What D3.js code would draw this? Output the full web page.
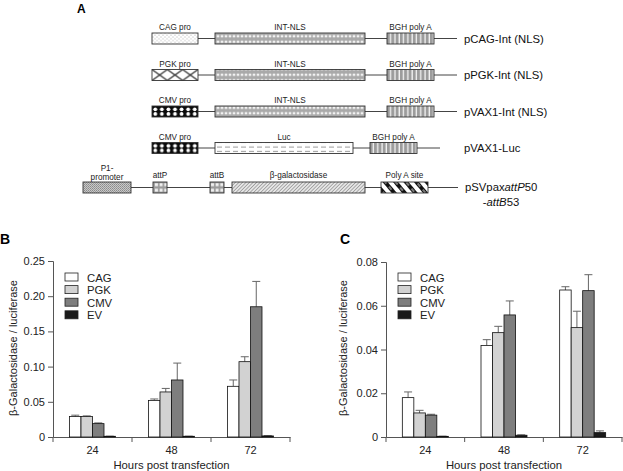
<!DOCTYPE html>
<html><head><meta charset="utf-8">
<script src="https://cdn.jsdelivr.net/npm/d3@7"></script>
<style>
body{margin:0;background:#fff;}
svg{display:block;font-family:"Liberation Sans",Arial,sans-serif;}
</style></head>
<body><svg id="c" width="623" height="471"></svg>
<script>
// ---------- Panel A data (construct maps, in map units) ----------
const constructNames = ["pCAG-Int (NLS)", "pPGK-Int (NLS)", "pVAX1-Int (NLS)", "pVAX1-Luc", "pSVpax"];
const constructEnds = [457, 457, 457, 440, 458];
const elemRow   = [0,0,0, 1,1,1, 2,2,2, 3,3,3, 4,4,4,4,4];
const elemName  = ["CAG pro","INT-NLS","BGH poly A","PGK pro","INT-NLS","BGH poly A","CMV pro","INT-NLS","BGH poly A","CMV pro","Luc","BGH poly A","P1-|promoter","attP","attB","β-galactosidase","Poly A site"];
const elemKind  = ["cag","int","bgh","pgk","int","bgh","cmv","int","bgh","cmv","luc","bgh","p1","att","att","gal","pa"];
const elemStart = [152,215,387, 152,215,387, 152,215,387, 152,215,370, 83,153,210,232,381];
const elemEnd   = [198,365,434, 198,365,434, 198,365,434, 198,353,417, 131,167,224,365,428];

// ---------- Panels B & C data ----------
const hours = ["24","48","72"];
const series = ["CAG","PGK","CMV","EV"];
const bCAG = [0.029, 0.052, 0.072], bCAGerr = [0.002, 0.002, 0.009];
const bPGK = [0.029, 0.064, 0.107], bPGKerr = [0.001, 0.005, 0.007];
const bCMV = [0.019, 0.081, 0.185], bCMVerr = [0.001, 0.024, 0.036];
const bEV  = [0.001, 0.001, 0.0015], bEVerr = [0.0002, 0.0002, 0.0004];
const cCAG = [0.018, 0.0418, 0.0672], cCAGerr = [0.0026, 0.0027, 0.0015];
const cPGK = [0.011, 0.0477, 0.050], cPGKerr = [0.0012, 0.0029, 0.0075];
const cCMV = [0.010, 0.0558, 0.0669], cCMVerr = [0.0004, 0.0064, 0.0073];
const cEV  = [0.0003, 0.0008, 0.002], cEVerr = [0.0001, 0.0002, 0.0008];
const bTicks = [0, 0.05, 0.10, 0.15, 0.20, 0.25];
const cTicks = [0, 0.02, 0.04, 0.06, 0.08];
const fills = ["#ffffff", "#d2d2d2", "#7e7e7e", "#1a1a1a"];

const svg = d3.select("#c");
const defs = svg.append("defs");

// ---------- patterns ----------
const rowY = d3.scalePoint().domain(d3.range(4)).range([38.5, 148]);
const rowCenter = i => i < 4 ? rowY(i) : 187.5;
const BH = 11;
const mx = d3.scaleLinear().domain([0, 623]).range([0, 623]);

function pat(id, w, h, extra) {
  const p = defs.append("pattern").attr("id", id).attr("patternUnits", "userSpaceOnUse")
    .attr("width", w).attr("height", h);
  if (extra) for (const k in extra) p.attr(k, extra[k]);
  return p;
}
// dots
let p = pat("cag", 4, 3.6);
p.append("rect").attr("width", 4).attr("height", 3.6).attr("fill", "#fff");
p.append("circle").attr("cx", 1).attr("cy", 0.9).attr("r", 0.5).attr("fill", "#888");
p.append("circle").attr("cx", 3).attr("cy", 2.7).attr("r", 0.5).attr("fill", "#888");
// int bricks
p = pat("int", 4, 5.5, {y: 0.5});
p.append("rect").attr("width", 4).attr("height", 5.5).attr("fill", "#a9a9a9");
p.append("rect").attr("x", 0.7).attr("y", 1.6).attr("width", 2.6).attr("height", 2.3).attr("fill", "#f2f2f2");
// bgh stripes
p = pat("bgh", 4.3, 11);
p.append("rect").attr("width", 4.3).attr("height", 11).attr("fill", "#f4f4f4");
p.append("rect").attr("width", 3).attr("height", 11).attr("fill", "#9c9c9c");
// luc dashes
p = pat("luc", 8, 4.5, {y: 0});
p.append("rect").attr("width", 8).attr("height", 4.5).attr("fill", "#fff");
p.append("line").attr("x1", 1).attr("x2", 6).attr("y1", 3).attr("y2", 3).attr("stroke", "#777").attr("stroke-width", 0.8);
// p1 fine hatch
p = pat("p1", 2, 2);
p.append("rect").attr("width", 2).attr("height", 2).attr("fill", "#c8c8c8");
p.append("rect").attr("width", 1).attr("height", 1).attr("fill", "#8a8a8a");
p.append("rect").attr("x", 1).attr("y", 1).attr("width", 1).attr("height", 1).attr("fill", "#9a9a9a");
// att
p = pat("att", 4.67, 5.5, {y: 0.5});
p.append("rect").attr("width", 4.67).attr("height", 5.5).attr("fill", "#9a9a9a");
p.append("rect").attr("x", 0.8).attr("y", 1.2).attr("width", 3).attr("height", 3).attr("fill", "#f0f0f0");
// galactosidase diagonal hatch
p = pat("gal", 2.5, 2.5, {patternTransform: "rotate(45)"});
p.append("rect").attr("width", 2.5).attr("height", 2.5).attr("fill", "#e6e6e6");
p.append("rect").attr("width", 0.8).attr("height", 2.5).attr("fill", "#9a9a9a");
// poly A thick stripes
p = pat("pa", 8, 8, {patternTransform: "rotate(-40)"});
p.append("rect").attr("width", 8).attr("height", 8).attr("fill", "#fff");
p.append("rect").attr("width", 4).attr("height", 8).attr("fill", "#111");
p.append("line").attr("x1", 2).attr("x2", 2).attr("y1", 1).attr("y2", 5).attr("stroke", "#fff").attr("stroke-width", 0.9);

// per-box patterns (PGK X, CMV dots) aligned to box
elemKind.forEach((k, i) => {
  const x0 = mx(elemStart[i]), x1 = mx(elemEnd[i]), yt = rowCenter(elemRow[i]) - BH / 2;
  if (k === "pgk") {
    const w = (x1 - x0) / 3;
    const q = pat("pgk" + i, w, BH, {x: x0, y: yt});
    q.append("rect").attr("width", w).attr("height", BH).attr("fill", "#fff");
    q.append("path").attr("d", `M0,0L${w},${BH}M0,${BH}L${w},0`).attr("stroke", "#222").attr("stroke-width", 1.1);
  }
  if (k === "cmv") {
    const w = (x1 - x0) / 7;
    const q = pat("cmv" + i, w, BH, {x: x0, y: yt});
    q.append("rect").attr("width", w).attr("height", BH).attr("fill", "#0a0a0a");
    q.append("circle").attr("cx", w / 2).attr("cy", 3.3).attr("r", 1.9).attr("fill", "#fff");
    q.append("circle").attr("cx", w / 2).attr("cy", 7.9).attr("r", 1.9).attr("fill", "#fff");
  }
});

// ---------- Panel A drawing ----------
svg.append("text").attr("x", 77).attr("y", 13).attr("font-size", 12).attr("font-weight", "bold").text("A");

constructNames.forEach((n, r) => {
  const idx = elemRow.map((v, i) => v === r ? i : -1).filter(i => i >= 0);
  const cy = rowCenter(r);
  svg.append("line").attr("x1", mx(elemStart[idx[0]])).attr("x2", mx(constructEnds[r]))
    .attr("y1", cy).attr("y2", cy).attr("stroke", "#444").attr("stroke-width", 1);
});
elemKind.forEach((k, i) => {
  const x0 = mx(elemStart[i]), x1 = mx(elemEnd[i]), cy = rowCenter(elemRow[i]);
  const fid = (k === "pgk" || k === "cmv") ? k + i : k;
  svg.append("rect").attr("x", x0).attr("y", cy - BH / 2).attr("width", x1 - x0).attr("height", BH)
    .attr("fill", `url(#${fid})`).attr("stroke", "#333").attr("stroke-width", 0.9);
  const parts = elemName[i].split("|");
  const cx = (x0 + x1) / 2;
  const t = svg.append("text").attr("x", cx).attr("text-anchor", "middle").attr("font-size", 8.2).attr("fill", "#222");
  if (parts.length === 2) {
    t.attr("y", cy - 17).text(parts[0]);
    svg.append("text").attr("x", cx).attr("y", cy - 8).attr("text-anchor", "middle").attr("font-size", 8.2).attr("fill", "#222").text(parts[1]);
  } else {
    t.attr("y", cy - (elemRow[i] === 4 ? 9.5 : 8.5)).text(parts[0]);
  }
});
constructNames.forEach((n, r) => {
  const cy = rowCenter(r);
  if (r < 4) {
    svg.append("text").attr("x", 464).attr("y", cy + 4).attr("font-size", 11.3).attr("fill", "#111").text(n);
  } else {
    const t = svg.append("text").attr("x", 465).attr("y", cy + 3).attr("font-size", 11.3).attr("fill", "#111");
    t.append("tspan").text(n);
    t.append("tspan").attr("font-style", "italic").text("attP");
    t.append("tspan").text("50");
    const t2 = svg.append("text").attr("x", 501).attr("y", cy + 18).attr("font-size", 11.3).attr("fill", "#111").attr("text-anchor", "middle");
    t2.append("tspan").text("-");
    t2.append("tspan").attr("font-style", "italic").text("attB");
    t2.append("tspan").text("53");
  }
});

// ---------- Bar charts ----------
function barChart(opt) {
  const g = svg.append("g");
  const x = d3.scaleBand().domain(hours).range([opt.x0, opt.x1]);
  const y = d3.scaleLinear().domain(opt.domain).range([437, opt.yTop]);
  const inner = d3.scaleBand().domain(series).range([-23, 23]);
  // axes
  const ya = g.append("g").attr("transform", `translate(${opt.x0},0)`)
    .call(d3.axisLeft(y).tickValues(opt.ticks).tickFormat(opt.fmt).tickSize(5).tickPadding(3));
  const xa = g.append("g").attr("transform", "translate(0,437)")
    .call(d3.axisBottom(x).tickSize(0).tickPadding(9));
  [ya, xa].forEach(a => {
    a.select(".domain").attr("stroke", "#555");
    a.selectAll(".tick line").attr("stroke", "#555");
    a.selectAll("text").attr("font-family", "Liberation Sans, Arial, sans-serif").attr("font-size", 11).attr("fill", "#222");
  });
  // band separator ticks
  g.selectAll(".sep").data([opt.x0].concat(hours.map(h => x(h) + x.bandwidth()))).enter().append("line")
    .attr("x1", d => d).attr("x2", d => d).attr("y1", 437).attr("y2", 442).attr("stroke", "#555");
  // bars
  opt.vals.forEach((vals, s) => {
    hours.forEach((h, i) => {
      const cx = x(h) + x.bandwidth() / 2;
      const bx = cx + inner(series[s]);
      const top = y(vals[i]);
      const ey = y(vals[i] + opt.errs[s][i]);
      const mid = bx + inner.bandwidth() / 2;
      g.append("line").attr("x1", mid).attr("x2", mid).attr("y1", top).attr("y2", ey).attr("stroke", "#666");
      g.append("line").attr("x1", mid - 4).attr("x2", mid + 4).attr("y1", ey).attr("y2", ey).attr("stroke", "#666");
      g.append("rect").attr("x", bx).attr("y", top).attr("width", inner.bandwidth()).attr("height", 437 - top)
        .attr("fill", fills[s]).attr("stroke", "#111").attr("stroke-width", 0.8);
    });
  });
  // legend
  series.forEach((s, i) => {
    const ly = 277 + i * 12.6;
    g.append("rect").attr("x", opt.lx).attr("y", ly - 4).attr("width", 13).attr("height", 8)
      .attr("fill", fills[i]).attr("stroke", "#222").attr("stroke-width", 0.8);
    g.append("text").attr("x", opt.lx + 22).attr("y", ly + 4.5).attr("font-size", 11.3).attr("fill", "#222").text(s);
  });
  // titles
  g.append("text").attr("transform", `translate(${opt.ylx},348) rotate(-90)`).attr("text-anchor", "middle")
    .attr("font-size", 11).attr("fill", "#222").text("β-Galactosidase / luciferase");
  g.append("text").attr("x", (opt.x0 + opt.x1) / 2).attr("y", 469).attr("text-anchor", "middle")
    .attr("font-size", 11.3).attr("fill", "#222").text("Hours post transfection");
  g.append("text").attr("x", opt.lblx).attr("y", 244).attr("font-size", 14).attr("font-weight", "bold").text(opt.label);
}

barChart({x0: 53, x1: 290, yTop: 261, domain: [0, 0.25], ticks: bTicks,
  fmt: d => d === 0 ? "0" : d3.format(".2f")(d),
  vals: [bCAG, bPGK, bCMV, bEV], errs: [bCAGerr, bPGKerr, bCMVerr, bEVerr],
  lx: 65, ylx: 17, lblx: 0, label: "B"});
barChart({x0: 386, x1: 622, yTop: 262, domain: [0, 0.08], ticks: cTicks,
  fmt: d => d === 0 ? "0" : d3.format(".2f")(d),
  vals: [cCAG, cPGK, cCMV, cEV], errs: [cCAGerr, cPGKerr, cCMVerr, cEVerr],
  lx: 398, ylx: 347, lblx: 340, label: "C"});
</script></body></html>
